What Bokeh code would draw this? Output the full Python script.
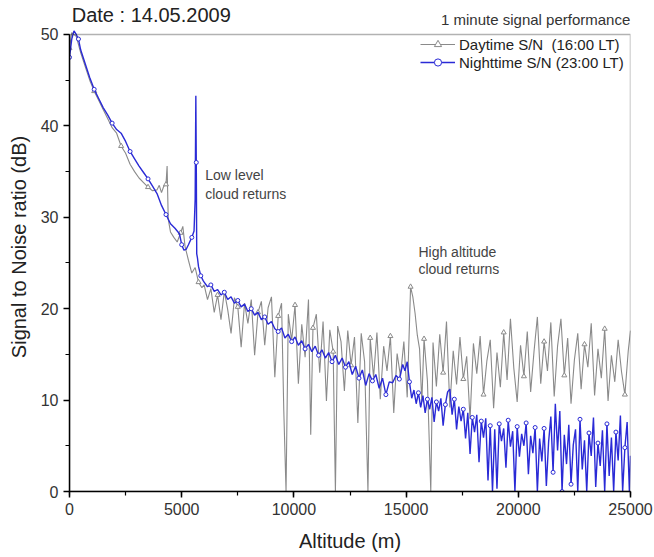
from bokeh.plotting import figure
from bokeh.models import (Range1d, SingleIntervalTicker, Label, Legend, LegendItem,
                          ColumnDataSource, BoxAnnotation)
from bokeh.embed import file_html
from bokeh.resources import INLINE

# ---------------- data ----------------
day_alt = [0, 100, 300, 500, 700, 900, 1100, 1300, 1500, 1700, 1900, 2100, 2300, 2500, 2700,
           2900, 3100, 3300, 3500, 3700, 3900, 4000, 4100, 4200, 4300, 4350, 4400, 4500, 4650,
           4800, 4950, 5050, 5150, 5300, 5450, 5600, 5750, 5900,
           6000, 6150, 6300, 6450, 6600, 6750, 6900, 7050, 7200, 7350, 7500, 7650, 7800, 7950,
           8100, 8250, 8400, 8550, 8700, 8850, 9000, 9150, 9300, 9450, 9550, 9650, 9750, 9900,
           10050, 10200, 10350, 10500, 10650, 10750, 10850, 11000, 11150, 11300, 11450, 11600,
           11750, 11850, 11950, 12100, 12250, 12400, 12550, 12700, 12850, 13000, 13150, 13300,
           13400, 13550, 13700, 13850, 14000, 14150, 14300, 14450, 14600, 14750, 14900, 15050,
           15200, 15300, 15400, 15500, 15600, 15700, 15800, 15950, 16100, 16200, 16350, 16500,
           16650, 16800, 16950, 17100, 17250, 17400, 17550, 17700, 17850, 18000, 18150, 18300,
           18450, 18600, 18750, 18900, 19050, 19200, 19350, 19500, 19650, 19800, 19950, 20100,
           20250, 20400, 20550, 20700, 20850, 21000, 21150, 21300, 21450, 21600, 21750, 21900,
           22050, 22200, 22350, 22500, 22650, 22800, 22950, 23100, 23250, 23400, 23550, 23700,
           23850, 24000, 24150, 24300, 24450, 24600, 24750, 24900, 25000]
day_snr = [48.5, 50.2, 49.8, 48.0, 46.5, 45.0, 43.8, 42.8, 41.8, 40.8, 39.8, 39.2, 37.8, 37.0, 35.8,
           35.0, 34.3, 33.8, 33.3, 32.9, 33.0, 33.5, 32.7, 33.4, 33.6, 35.6, 29.8, 28.4, 27.8,
           27.3, 28.3, 29.0, 26.8, 25.3, 23.9, 24.5, 22.9, 22.3,
           22.6, 21.0, 22.2, 19.6, 21.5, 18.8, 21.9, 19.9, 17.3, 21.2, 20.2, 15.8, 20.6, 18.4,
           21.0, 14.9, 19.6, 20.8, 16.0, 20.1, 21.3, 12.5, 19.2, 20.6, 8.8, 0.0, 19.4, 16.5,
           20.4, 11.8, 18.3, 14.7, 21.0, 6.2, 17.9, 19.4, 13.0, 18.6, 9.9, 17.7,
           15.3, 0.0, 18.1, 16.4, 11.0, 17.6, 13.8, 16.9, 7.5, 17.3, 14.2, 0.0,
           16.8, 12.5, 17.4, 10.1, 15.9, 13.2, 17.0, 8.6, 15.1, 12.6, 16.4, 10.3,
           22.4, 21.3, 19.5, 17.1, 15.6, 9.8, 16.7, 12.1, 0.0, 16.3, 11.5, 17.2,
           13.0, 18.6, 9.2, 15.4, 11.7, 16.9, 12.3, 14.8, 7.9, 16.2, 12.9, 17.0,
           10.6, 14.3, 16.6, 9.1, 15.2, 11.4, 17.4, 12.2, 18.9, 13.5, 9.8, 16.0,
           12.6, 17.5, 10.9, 15.3, 19.1, 11.8, 16.4, 13.2, 18.5, 10.4, 15.9, 18.9,
           12.7, 16.8, 9.6, 14.4, 17.3, 11.2, 16.1, 13.6, 18.4, 10.5, 15.6, 12.4,
           17.8, 9.9, 14.9, 12.0, 16.6, 13.1, 10.6, 15.4, 17.6]

night_alt = [0, 100, 200, 300, 400, 500, 700, 900, 1100, 1300, 1500, 1700, 1900, 2100, 2300,
             2500, 2700, 2900, 3100, 3300, 3500, 3700, 3900, 4100, 4300, 4500, 4700, 4900, 5000,
             5100, 5200, 5300, 5450, 5550, 5600, 5630, 5650, 5670, 5700, 5750, 5850, 5950,
             6000, 6150, 6300, 6450, 6600, 6750, 6900, 7050, 7200, 7350, 7500, 7650, 7800, 7950,
             8100, 8250, 8400, 8550, 8700, 8850, 9000, 9150, 9300, 9450, 9600, 9750, 9900, 10050,
             10200, 10350, 10500, 10650, 10800, 10950, 11100, 11250, 11400, 11550, 11700, 11850,
             12000, 12150, 12300, 12450, 12600, 12750, 12900, 13050, 13200, 13350, 13500, 13650,
             13800, 13950, 14100, 14250, 14400, 14550, 14700, 14850, 14950, 15050, 15150, 15250,
             15350, 15450, 15550, 15650, 15750, 15850, 15950, 16050, 16150, 16250, 16350, 16450,
             16550, 16650, 16750, 16850, 16950, 17050, 17150, 17250, 17350, 17450, 17550, 17650,
             17750, 17850, 17950, 18050, 18150, 18250, 18350, 18450, 18550, 18650, 18750, 18850,
             18950, 19050, 19150, 19250, 19350, 19450, 19550, 19650, 19750, 19850, 19950, 20050,
             20150, 20250, 20350, 20450, 20550, 20650, 20750, 20850, 20950, 21050, 21150, 21250,
             21350, 21450, 21550, 21650, 21750, 21850, 21950, 22050, 22150, 22250, 22350, 22450,
             22550, 22650, 22750, 22850, 22950, 23050, 23150, 23250, 23350, 23450, 23550, 23650,
             23750, 23850, 23950, 24050, 24150, 24250, 24350, 24450, 24550, 24650, 24750, 24850,
             24950, 25000]
night_snr = [47.5, 49.5, 50.4, 50.0, 49.5, 48.3, 46.8, 45.3, 44.0, 43.0, 42.0, 41.2, 40.3, 39.6, 39.2,
             38.3, 37.2, 36.4, 35.6, 34.9, 34.2, 33.4, 32.6, 31.3, 30.3, 29.3, 28.8, 28.2, 27.0,
             26.4, 26.5, 27.0, 27.8, 28.5, 32.0, 43.3, 36.0, 26.0, 25.6, 24.6, 23.6, 23.1,
             22.9, 22.4, 22.6, 21.9, 22.1, 21.5, 21.8, 21.0, 21.3, 20.6, 20.9, 20.2, 20.5, 19.7,
             20.0, 19.3, 19.6, 18.8, 19.1, 18.3, 18.6, 17.8, 17.5, 17.9, 16.8, 17.2, 16.4, 16.9,
             16.0, 16.5, 15.6, 16.1, 15.3, 15.9, 14.9, 15.5, 14.6, 15.2, 14.2, 14.9,
             13.9, 14.6, 13.6, 14.2, 12.8, 13.7, 12.4, 13.3, 11.6, 12.9, 12.1, 12.8,
             11.3, 12.4, 10.6, 12.0, 11.9, 12.7, 12.3, 13.9, 13.2, 14.2, 12.0, 10.2,
             11.1, 9.6, 10.8, 9.2, 10.5, 8.6, 10.1, 9.0, 10.3, 7.6, 9.8, 8.8,
             10.2, 7.2, 9.5, 10.9, 11.2, 8.4, 10.1, 6.8, 9.3, 7.7, 9.0, 5.8,
             8.6, 4.1, 8.1, 6.5, 8.4, 3.2, 7.7, 5.9, 8.0, 1.2, 7.2, 0.0,
             6.8, 0.3, 7.4, 5.5, 6.9, 2.6, 7.8, 4.9, 6.6, 0.0, 7.1, 3.8,
             6.3, 5.0, 7.5, 1.9, 6.1, 4.2, 7.0, 0.0, 5.8, 3.3, 6.9, 0.6,
             5.4, 8.2, 2.1, 9.6, 4.5, 8.8, 0.0, 6.2, 3.0, 7.3, 0.8, 5.1,
             6.8, 0.0, 7.9, 2.4, 5.6, 0.0, 6.4, 3.9, 8.1, 0.5, 5.3, 2.8,
             6.7, 0.0, 7.4, 1.7, 5.9, 0.0, 6.5, 3.4, 8.3, 0.0, 4.8, 7.6,
             0.0, 3.9]

x_max = 25000
y_max = 50

title_text = "Date : 14.05.2009"
subtitle_text = "1 minute signal performance"
day_label = "Daytime S/N  (16:00 LT)"
night_label = "Nighttime S/N (23:00 LT)"

GRAY = "#8a8a8a"
BLUE = "#2a2ad6"
FONT = "Liberation Sans"

# frame extends a little above y=50 so the heading texts can live inside it
p = figure(width=654, height=557, output_backend="svg", toolbar_location=None,
           x_range=Range1d(0, x_max), y_range=Range1d(0, 53.5),
           min_border_left=69, min_border_right=24, min_border_top=2, min_border_bottom=66)
p.background_fill_color = "white"
p.border_fill_color = "white"
p.outline_line_color = None
p.xgrid.visible = False
p.ygrid.visible = False

p.xaxis.bounds = (0, x_max)
p.yaxis.bounds = (0, y_max)
for ax, interval in ((p.xaxis[0], 5000), (p.yaxis[0], 10)):
    ax.ticker = SingleIntervalTicker(interval=interval, num_minor_ticks=2)
    ax.axis_line_width = 1.5
    ax.axis_line_color = "black"
    ax.major_tick_line_width = 1.5
    ax.minor_tick_line_width = 1.2
    ax.major_tick_out = 6
    ax.major_tick_in = 0
    ax.minor_tick_out = 4
    ax.minor_tick_in = 0
    ax.major_label_text_font = FONT
    ax.major_label_text_font_size = "16px"
    ax.major_label_text_color = "#333333"
    ax.axis_label_text_font = FONT
    ax.axis_label_text_font_size = "20px"
    ax.axis_label_text_font_style = "normal"
    ax.axis_label_text_color = "#222222"

p.xaxis.axis_label = "Altitude (m)"
p.yaxis.axis_label = "Signal to Noise ratio (dB)"
p.xaxis.axis_label_standoff = 12
p.yaxis.axis_label_standoff = 8

# plot box (top and right sides) at the data limits
p.add_layout(BoxAnnotation(left=0, right=x_max, bottom=0, top=y_max, fill_alpha=0,
                           line_color="black", line_width=1.5, level="overlay"))

src_d = ColumnDataSource(dict(x=day_alt, y=day_snr))
src_n = ColumnDataSource(dict(x=night_alt, y=night_snr))
src_dm = ColumnDataSource(dict(x=day_alt[::6], y=day_snr[::6]))
src_nm = ColumnDataSource(dict(x=night_alt[::4], y=night_snr[::4]))

ld = p.line("x", "y", source=src_d, line_color=GRAY, line_width=1.1)
md = p.scatter("x", "y", source=src_dm, marker="triangle", size=5, line_color=GRAY,
               fill_color="white", line_width=1)
ln = p.line("x", "y", source=src_n, line_color=BLUE, line_width=1.4)
mn = p.scatter("x", "y", source=src_nm, marker="circle", size=4, line_color=BLUE,
               fill_color="white", line_width=1)

legend = Legend(items=[LegendItem(label=day_label, renderers=[ld, md]),
                       LegendItem(label=night_label, renderers=[ln, mn])],
                location=(351, 420), border_line_alpha=0, background_fill_alpha=0,
                label_text_font=FONT, label_text_font_size="15px", label_text_color="#222222",
                glyph_width=35, glyph_height=18, label_height=18, spacing=0, padding=0,
                margin=0, label_standoff=4)
p.add_layout(legend)

p.add_layout(Label(x=100, y=52.1, text=title_text, text_font=FONT, text_font_size="20px",
                   text_color="#222222", text_baseline="middle"))
p.add_layout(Label(x=24990, y=51.6, text=subtitle_text, text_font=FONT, text_font_size="15px",
                   text_color="#333333", text_baseline="middle", text_align="right"))
for txt, yy in (("Low level", 34.6), ("cloud returns", 32.6)):
    p.add_layout(Label(x=6050, y=yy, text=txt, text_font=FONT, text_font_size="14px",
                       text_color="#444444", text_baseline="middle"))
for txt, yy in (("High altitude", 26.2), ("cloud returns", 24.3)):
    p.add_layout(Label(x=15550, y=yy, text=txt, text_font=FONT, text_font_size="14px",
                       text_color="#444444", text_baseline="middle"))

open("out.html", "w").write(file_html(p, INLINE))
